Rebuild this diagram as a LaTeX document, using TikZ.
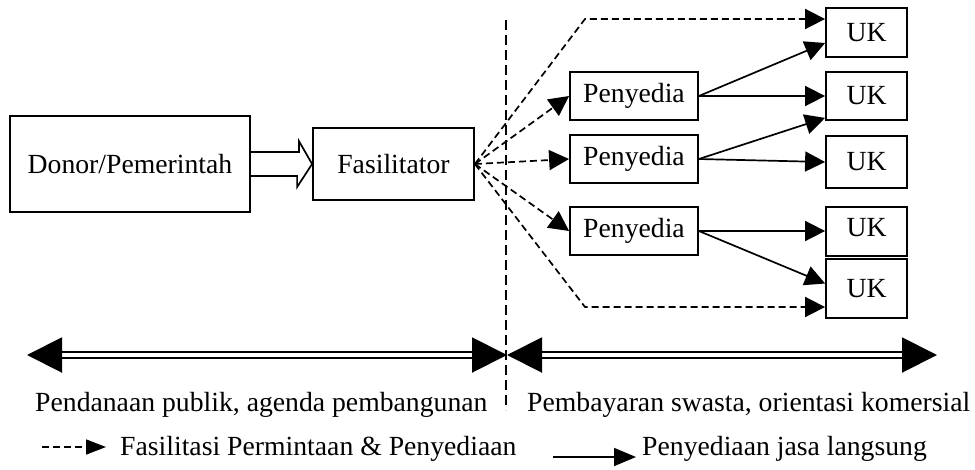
\documentclass[tikz,border=0pt]{standalone}
\usepackage{fontspec}
\setmainfont{Liberation Serif}
\usetikzlibrary{arrows.meta,calc}

\begin{document}
\begin{tikzpicture}[x=1pt,y=-1pt]
      \tikzstyle{box}=[draw,line width=1.8pt,inner sep=0pt,
                       font=\fontsize{27.7}{32}\selectfont]
      \tikzstyle{txt}=[inner sep=0pt,font=\fontsize{27.7}{32}\selectfont]
      \tikzstyle{flow}=[line width=1.7pt,-{Triangle[length=20pt,width=20pt]}]
      \tikzstyle{fac}=[flow,dash pattern=on 7pt off 4pt]
      \tikzstyle{dbl}=[double,double distance=4pt,line width=2pt,
                       {Triangle[length=35pt,width=35pt]}-{Triangle[length=35pt,width=35pt]}]
      \useasboundingbox (0,0) rectangle (975,469);

      \node (donor) [box,minimum width=240pt,minimum height=96pt] at (130,164) {Donor/Pemerintah};
      \node (fasil) [box,minimum width=161pt,minimum height=72pt] at (393.5,164) {Fasilitator};
      \node (peny1) [box,minimum width=128pt,minimum height=48pt] at (634,96) {Penyedia};
      \node (peny2) [box,minimum width=128pt,minimum height=48pt] at (634,159) {Penyedia};
      \node (peny3) [box,minimum width=128pt,minimum height=48pt] at (634,231) {Penyedia};
      \node (uk1) [box,minimum width=81pt,minimum height=49pt] at (866.5,32.5) {UK};
      \node (uk2) [box,minimum width=81pt,minimum height=48pt] at (866.5,96) {UK};
      \node (uk3) [box,minimum width=81pt,minimum height=52pt] at (866.5,162) {UK};
      \node (uk4) [box,minimum width=81pt,minimum height=49pt,text depth=8pt] at (866.5,231.5) {UK};
      \node (uk5) [box,minimum width=81pt,minimum height=59pt] at (866.5,288.5) {UK};

      \draw[line width=1.7pt] ($(donor.east)+(0,-12)$) -- ++(48,0) -- ++(0,-11)
          -- (fasil.west) -- ++(-15,23) -- ++(0,-11) -- ($(donor.east)+(0,12)$);

      \coordinate (ftop) at (585,19);
      \coordinate (fbot) at (585,307);
      \draw[fac] (fasil.east) -- (ftop) -- (ftop -| uk1.west);
      \draw[fac] (fasil.east) -- (peny1.west);
      \draw[fac] (fasil.east) -- (peny2.west);
      \draw[fac] (fasil.east) -- (peny3.west);
      \draw[fac] (fasil.east) -- (fbot) -- (fbot -| uk5.west);

      \draw[flow] (peny1.east) -- ($(uk1.west)+(0,10.5)$);
      \draw[flow] (peny1.east) -- (uk2.west);
      \draw[flow] (peny2.east) -- ($(uk2.south west)+(0,-3)$);
      \draw[flow] (peny2.east) -- (uk3.west);
      \draw[flow] (peny3.east) -- (peny3.east -| uk4.west);
      \draw[flow] (peny3.east) -- ($(uk5.west)+(0,-5)$);

      \coordinate (vtop) at (506,20);
      \coordinate (vbot) at (506,410);
      \draw[line width=1.5pt,dash pattern=on 10pt off 5pt] (vtop) -- (vbot);

      \coordinate (left) at (27,355);
      \coordinate (mid) at (507,355);
      \coordinate (right) at (937,355);
      \draw[dbl] (left) -- (mid);
      \draw[dbl] (mid) -- (right);

      \node (publik) [txt,anchor=base west] at (35,411) {Pendanaan publik, agenda pembangunan};
      \node (swasta) [txt,anchor=base west] at (527,411) {Pembayaran swasta, orientasi komersial};

      \coordinate (leg1) at (42,447);
      \node (legfac) [txt,anchor=base west] at (120,455) {Fasilitasi Permintaan \& Penyediaan};
      \draw[line width=1.7pt,dash pattern=on 7pt off 4pt,-{Triangle[length=20pt,width=15pt]}]
          (leg1) -- ($(leg1 -| legfac.west)+(-14,0)$);
      \coordinate (leg2) at (553,457);
      \node (legjasa) [txt,anchor=base west] at (642,455) {Penyediaan jasa langsung};
      \draw[line width=1.7pt,-{Triangle[length=22pt,width=18pt]}]
          (leg2) -- ($(leg2 -| legjasa.west)+(-6,0)$);
\end{tikzpicture}
\end{document}
